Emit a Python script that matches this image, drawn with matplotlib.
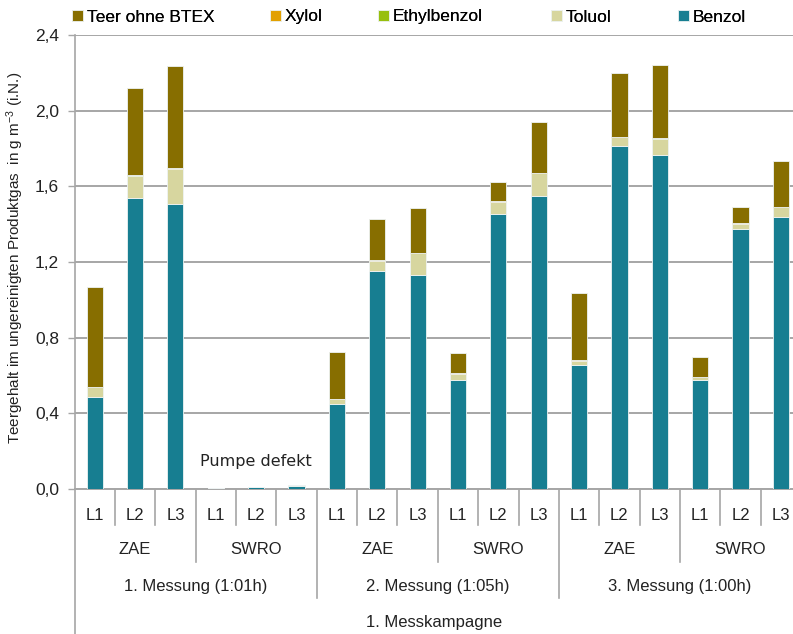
import matplotlib
matplotlib.use("Agg")
import matplotlib.pyplot as plt
import numpy as np
from matplotlib.transforms import blended_transform_factory

plt.rcParams['mathtext.default'] = 'regular'

categories = ["L1", "L2", "L3"] * 6
groups = ["ZAE", "SWRO"] * 3
messungen = ["1. Messung (1:01h)", "2. Messung (1:05h)", "3. Messung (1:00h)"]
kampagne = "1. Messkampagne"

benzol = [0.488, 1.536, 1.508, 0.000, 0.008, 0.015, 0.449, 1.154, 1.131,
          0.578, 1.453, 1.549, 0.657, 1.815, 1.765, 0.578, 1.374, 1.439]
toluol = [0.049, 0.120, 0.183, 0.004, 0.003, 0.005, 0.025, 0.051, 0.115,
          0.030, 0.064, 0.120, 0.020, 0.044, 0.087, 0.012, 0.027, 0.050]
ethylbenzol = [0.002, 0.002, 0.001, 0.000, 0.000, 0.000, 0.001, 0.001, 0.001,
               0.001, 0.001, 0.001, 0.001, 0.001, 0.001, 0.001, 0.001, 0.001]
xylol = [0.002, 0.002, 0.007, 0.000, 0.000, 0.000, 0.002, 0.002, 0.002,
         0.002, 0.002, 0.002, 0.002, 0.002, 0.002, 0.002, 0.002, 0.002]
teer = [0.525, 0.461, 0.537, 0.000, 0.000, 0.000, 0.247, 0.217, 0.236,
        0.108, 0.101, 0.268, 0.354, 0.337, 0.388, 0.103, 0.088, 0.243]

series = [("Benzol", benzol, "#177E91"),
          ("Toluol", toluol, "#D7D69F"),
          ("Ethylbenzol", ethylbenzol, "#97BF0D"),
          ("Xylol", xylol, "#E2A000"),
          ("Teer ohne BTEX", teer, "#876E00")]

W, H = 793, 634
fig = plt.figure(figsize=(W / 100, H / 100), dpi=100)
ax = fig.add_axes([74.5 / W, 1 - 489 / H, 1 - 74.5 / W, (489 - 35) / H])

x = np.arange(len(categories))
bottom = np.zeros(len(categories))
for name, vals, col in series:
    v = np.array(vals)
    ax.bar(x, v, width=0.4, bottom=bottom, color=col, edgecolor="#eef3f3",
           linewidth=0.6, label=name, zorder=3)
    bottom += v

ax.set_xlim(-0.5, 17.3)
ax.set_ylim(0, 2.4)
ax.set_yticks([0, 0.4, 0.8, 1.2, 1.6, 2.0, 2.4])
ax.set_yticklabels(["0,0", "0,4", "0,8", "1,2", "1,6", "2,0", "2,4"],
                   fontsize=12.5, family="Liberation Sans", color="#222222")
ax.yaxis.grid(True, color="#A6A6A6", linewidth=1.4, zorder=0)
ax.set_axisbelow(True)
for s in ["top", "right"]:
    ax.spines[s].set_visible(False)
ax.spines["left"].set_color("#A6A6A6")
ax.spines["left"].set_linewidth(1.2)
ax.spines["bottom"].set_color("#A6A6A6")
ax.spines["bottom"].set_linewidth(1.4)
ax.tick_params(axis="y", direction="out", length=5, color="#A6A6A6", width=1.0, pad=6)
ax.set_xticks([])

ax.set_ylabel(r"Teergehalt im ungereinigten Produktgas  in g m$^{-3}$ (i.N.)",
              fontsize=11, family="Liberation Sans", color="#222222")
ax.yaxis.set_label_coords(-0.068, 0.51)

ax.text(4, 0.148, "Pumpe defekt", ha="center", va="center", fontsize=11.5,
        family="DejaVu Sans", color="#222222", zorder=4)

# multi-level category axis
tr = blended_transform_factory(ax.transData, fig.transFigure)
def fy(py):
    return 1 - py / H

catfont = dict(family="Liberation Sans", fontsize=12, color="#222222")
for i in range(len(categories) + 1):
    b = i - 0.5
    if i == 0:
        y1 = H
    elif i % 6 == 0:
        y1 = 598
    elif i % 3 == 0:
        y1 = 562
    else:
        y1 = 525
    ax.plot([b, b], [fy(489), fy(y1)], transform=tr, color="#A6A6A6",
            linewidth=1.2, clip_on=False)
for i, c in enumerate(categories):
    ax.text(i, fy(515), c, transform=tr, ha="center", va="center", **catfont)
for g, name in enumerate(groups):
    ax.text(g * 3 + 1, fy(550), name, transform=tr, ha="center", va="center", **catfont)
for m, name in enumerate(messungen):
    ax.text(m * 6 + 2.5, fy(587), name, transform=tr, ha="center", va="center", **catfont)
ax.text(0.5, fy(622), kampagne, transform=blended_transform_factory(ax.transAxes, fig.transFigure),
        ha="center", va="center", **catfont)

handles, labels = ax.get_legend_handles_labels()
handles = handles[::-1]
labels = labels[::-1]
legend_x = [72, 270, 378, 551, 678]
for h, l, lx in zip(handles, labels, legend_x):
    lg = fig.legend([h], [l], loc="center left",
                    bbox_to_anchor=(lx / W, 1 - 17 / H), frameon=False,
                    prop={"family": "Liberation Sans", "size": 12.5},
                    handlelength=0.65, handleheight=0.65, handletextpad=0.2,
                    borderaxespad=0, borderpad=0)
    fig.add_artist(lg)

fig.savefig("out.png", dpi=100)
